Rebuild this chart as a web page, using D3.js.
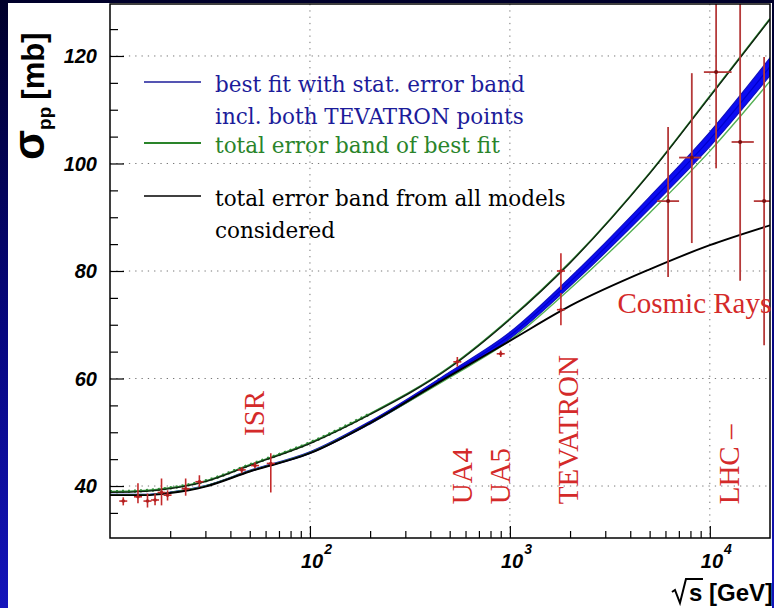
<!DOCTYPE html>
<html>
<head>
<meta charset="utf-8">
<script src="https://cdnjs.cloudflare.com/ajax/libs/d3/7.8.5/d3.min.js"></script>
<style>
  html, body { margin: 0; padding: 0; background: #000030; }
  svg { display: block; }
</style>
</head>
<body>
<svg id="chart" width="774" height="608"></svg>
<script>
// Energies (sqrt(s), GeV) at which the fitted curves are tabulated
const energies    = [10, 15, 20, 30, 50, 100, 200, 500, 1000, 2000, 5000, 10000, 20000];
// Best fit and its statistical half-width (mb)
const bestFit     = [38.4, 38.4, 38.8, 40.0, 42.8, 46.2, 51.8, 60.8, 68.0, 78.0, 92.7, 104.5, 118.0];
const statErr     = [0.05, 0.05, 0.05, 0.08, 0.1, 0.15, 0.25, 0.4, 0.6, 0.8, 1.1, 1.35, 1.65];
// Total error band of the best fit (mb)
const fitBandLow  = [38.4, 38.4, 38.8, 40.0, 42.8, 46.2, 51.7, 60.2, 67.1, 76.7, 90.8, 102.3, 115.3];
const fitBandHigh = [38.95, 39.15, 39.65, 40.95, 43.95, 48.05, 53.45, 62.15, 71.15, 81.65, 98.25, 112.55, 126.95];
// Total error band from all models considered (mb)
const modelsLow   = [38.3, 38.3, 38.7, 39.9, 42.7, 46.1, 51.7, 60.5, 67.0, 73.5, 80.3, 84.8, 88.5];
const modelsHigh  = [38.8, 39.0, 39.5, 40.8, 43.8, 47.9, 53.3, 62.0, 71.0, 81.5, 98.1, 112.4, 126.8];

// Accelerator measurements: energy, value, lower and upper error limits (mb)
const accE   = [11.65, 13.8, 15.4, 16.8, 18.1, 19.4, 23.9, 28.0, 45.6, 53.1, 63.7, 546, 900, 1800, 1800];
const accVal = [37.2, 38.0, 37.2, 37.4, 38.8, 38.3, 39.5, 40.8, 43.0, 43.8, 44.2, 63.1, 64.6, 72.8, 80.0];
const accLo  = [36.4, 36.8, 36.0, 36.4, 36.4, 37.3, 38.2, 39.8, 42.4, 43.3, 38.8, 62.2, 64.0, 69.9, 76.5];
const accHi  = [37.9, 40.5, 38.6, 38.6, 41.4, 39.2, 41.4, 42.0, 43.5, 44.4, 46.1, 64.0, 65.2, 75.9, 83.3];

// Cosmic-ray points: energy with its range, value with its range
const crE    = [6185, 8128, 10753, 14180, 18690];
const crELo  = [5450, 7020, 9340, 12850, 16600];
const crEHi  = [7020, 9060, 12850, 16600, 20000];
const crVal  = [93.0, 101.1, 117.0, 104.0, 93.0];
const crLo   = [78.9, 85.2, 99.1, 78.2, 66.2];
const crHi   = [106.8, 116.8, 135.0, 130.0, 119.8];

// Axis ticks
const yMajor = [40, 60, 80, 100, 120];
const yMinor = [35, 45, 50, 55, 65, 70, 75, 85, 90, 95, 105, 110, 115, 125];
const xMajor = [100, 1000, 10000];
const xMajorExp = ["2", "3", "4"];
const xMinor = [20, 30, 40, 50, 60, 70, 80, 90, 200, 300, 400, 500, 600, 700, 800, 900,
                2000, 3000, 4000, 5000, 6000, 7000, 8000, 9000];

// Experiment labels: energy and cross-section where each vertical label starts
const expNames = ["ISR", "UA4", "UA5", "TEVATRON", "LHC –"];
const expE     = [59, 650, 1000, 2200, 14000];
const expY     = [49.3, 36.6, 36.6, 36.6, 36.6];

// Legend
const legendText = [
  ["best fit with stat. error band", "incl. both TEVATRON points"],
  ["total error band of best fit"],
  ["total error band from all models", "considered"]
];
const legendColor = ["#1c1c9a", "#2a842a", "#000000"];

(function draw() {
  const svg = d3.select("#chart");
  const W = 774, H = 608;

  // Background: navy gradient with a white panel
  const defs = svg.append("defs");
  const grad = defs.append("linearGradient").attr("id", "bg").attr("x1", 0).attr("y1", 0).attr("x2", 0).attr("y2", 1);
  grad.append("stop").attr("offset", "0%").attr("stop-color", "#00002a");
  grad.append("stop").attr("offset", "55%").attr("stop-color", "#070780");
  grad.append("stop").attr("offset", "100%").attr("stop-color", "#1515bb");
  svg.append("rect").attr("width", W).attr("height", H).attr("fill", "url(#bg)");
  svg.append("rect").attr("x", 8).attr("y", 3).attr("width", 764).attr("height", 605).attr("fill", "#ffffff");

  const pL = 110, pR = 770, pT = 4, pB = 538;
  const x = d3.scaleLog().domain([10, 20000]).range([pL, pR]);
  const y = d3.scaleLinear().domain([30.33, 129.67]).range([pB, pT]);

  defs.append("clipPath").attr("id", "plotclip")
    .append("rect").attr("x", pL).attr("y", pT).attr("width", pR - pL).attr("height", pB - pT);

  // Dotted grid
  const grid = svg.append("g").attr("stroke", "#777").attr("stroke-width", 1).attr("stroke-dasharray", "1.3,5");
  grid.selectAll("line.h").data(yMajor).join("line").attr("class", "h")
    .attr("x1", pL).attr("x2", pR).attr("y1", d => y(d)).attr("y2", d => y(d));
  grid.selectAll("line.v").data(xMajor).join("line").attr("class", "v")
    .attr("y1", pT).attr("y2", pB).attr("x1", d => x(d)).attr("x2", d => x(d));

  const plot = svg.append("g").attr("clip-path", "url(#plotclip)");

  const rows = energies.map((e, i) => ({
    e, fit: bestFit[i], se: statErr[i],
    fLo: fitBandLow[i], fHi: fitBandHigh[i], mLo: modelsLow[i], mHi: modelsHigh[i]
  }));

  const lineOf = acc => d3.line().x(d => x(d.e)).y(d => y(acc(d))).curve(d3.curveMonotoneX);

  // Statistical band of the best fit
  plot.append("path").datum(rows)
    .attr("d", d3.area().x(d => x(d.e)).y0(d => y(d.fit - d.se)).y1(d => y(d.fit + d.se)).curve(d3.curveMonotoneX))
    .attr("fill", "#0c0cf2").attr("stroke", "#1010c0").attr("stroke-width", 1.2);
  plot.append("path").datum(rows).attr("d", lineOf(d => d.fit))
    .attr("fill", "none").attr("stroke", "#0000cc").attr("stroke-width", 1.2);

  // Total error band of the best fit (green)
  plot.append("path").datum(rows).attr("d", lineOf(d => d.fLo))
    .attr("fill", "none").attr("stroke", "#55b055").attr("stroke-width", 1.4);
  plot.append("path").datum(rows).attr("d", lineOf(d => d.fHi))
    .attr("fill", "none").attr("stroke", "#2d8a35").attr("stroke-width", 1.6);
  // small green markers along the upper green curve at low energy
  plot.append("path").datum(rows.filter(d => d.e <= 200)).attr("d", lineOf(d => d.fHi))
    .attr("fill", "none").attr("stroke", "#2d8a35").attr("stroke-width", 3.2).attr("stroke-dasharray", "2,4");

  // Band from all models (black)
  plot.append("path").datum(rows).attr("d", lineOf(d => d.mLo))
    .attr("fill", "none").attr("stroke", "#000").attr("stroke-width", 1.9);
  plot.append("path").datum(rows).attr("d", lineOf(d => d.mHi))
    .attr("fill", "none").attr("stroke", "#102010").attr("stroke-width", 1.3);

  // Accelerator data
  const acc = accE.map((e, i) => ({ e, v: accVal[i], lo: accLo[i], hi: accHi[i] }));
  const accG = plot.append("g").attr("stroke", "#c42a2a").attr("stroke-width", 1.6);
  accG.selectAll("line.err").data(acc).join("line").attr("class", "err")
    .attr("x1", d => x(d.e)).attr("x2", d => x(d.e)).attr("y1", d => y(d.lo)).attr("y2", d => y(d.hi));
  accG.selectAll("line.tick").data(acc).join("line").attr("class", "tick")
    .attr("x1", d => x(d.e) - 4).attr("x2", d => x(d.e) + 4).attr("y1", d => y(d.v)).attr("y2", d => y(d.v));
  plot.append("g").selectAll("circle").data(acc).join("circle")
    .attr("cx", d => x(d.e)).attr("cy", d => y(d.v)).attr("r", 1.8).attr("fill", "#b02020");

  // Cosmic-ray data
  const cr = crE.map((e, i) => ({ e, eLo: crELo[i], eHi: crEHi[i], v: crVal[i], lo: crLo[i], hi: crHi[i] }));
  const crG = plot.append("g").attr("stroke", "#b53a3a").attr("stroke-width", 1.8);
  crG.selectAll("line.v").data(cr).join("line").attr("class", "v")
    .attr("x1", d => x(d.e)).attr("x2", d => x(d.e)).attr("y1", d => y(d.lo)).attr("y2", d => y(d.hi));
  crG.selectAll("line.h").data(cr).join("line").attr("class", "h")
    .attr("x1", d => x(d.eLo)).attr("x2", d => x(d.eHi)).attr("y1", d => y(d.v)).attr("y2", d => y(d.v));
  plot.append("g").selectAll("circle").data(cr).join("circle")
    .attr("cx", d => x(d.e)).attr("cy", d => y(d.v)).attr("r", 2).attr("fill", "#7a1010");

  // Frame
  svg.append("rect").attr("x", pL).attr("y", pT).attr("width", pR - pL).attr("height", pB - pT)
    .attr("fill", "none").attr("stroke", "#000").attr("stroke-width", 1.5);

  // Ticks pointing into the plot
  const tickStyle = g => {
    g.select(".domain").remove();
    g.selectAll("line").attr("stroke", "#000").attr("stroke-width", 1.2);
    g.selectAll("text").remove();
  };
  svg.append("g").attr("transform", `translate(${pL},0)`)
    .call(d3.axisRight(y).tickValues(yMajor).tickSize(14)).call(tickStyle);
  svg.append("g").attr("transform", `translate(${pL},0)`)
    .call(d3.axisRight(y).tickValues(yMinor).tickSize(8)).call(tickStyle);
  svg.append("g").attr("transform", `translate(0,${pB})`)
    .call(d3.axisTop(x).tickValues(xMajor).tickSize(12)).call(tickStyle);
  svg.append("g").attr("transform", `translate(0,${pB})`)
    .call(d3.axisTop(x).tickValues(xMinor).tickSize(7)).call(tickStyle);

  // Tick labels
  const labelFont = "'Liberation Sans', Arial, sans-serif";
  svg.append("g").selectAll("text").data(yMajor).join("text")
    .attr("x", 97).attr("y", d => y(d)).attr("dy", "0.36em")
    .attr("text-anchor", "end").attr("font-family", labelFont).attr("font-weight", "bold")
    .attr("font-style", "italic").attr("font-size", 20).attr("fill", "#000")
    .text(d => d);

  const xl = svg.append("g").selectAll("text").data(xMajor).join("text")
    .attr("x", d => x(d) - 9).attr("y", 568)
    .attr("font-family", labelFont).attr("font-weight", "bold")
    .attr("font-style", "italic").attr("font-size", 20).attr("fill", "#000");
  xl.append("tspan").text("10");
  xl.append("tspan").attr("dy", -14).attr("dx", 1).attr("font-size", 14).text((d, i) => xMajorExp[i]);

  // Axis titles
  const base = 601;
  const xt = svg.append("text").attr("x", 773).attr("y", base).attr("text-anchor", "end")
    .attr("font-family", labelFont).attr("font-weight", "bold").attr("font-size", 24).attr("fill", "#000")
    .text("s [GeV]");
  const sx = xt.node().getBBox().x;
  svg.append("path")
    .attr("d", `M${sx - 17},${base - 9} L${sx - 14},${base - 11} L${sx - 9},${base + 2} L${sx - 3},${base - 22} L${sx + 14},${base - 22}`)
    .attr("fill", "none").attr("stroke", "#000").attr("stroke-width", 2);

  const yt = svg.append("text").attr("transform", "translate(44,160) rotate(-90)")
    .attr("font-family", labelFont).attr("font-weight", "bold").attr("fill", "#000");
  yt.append("tspan").attr("font-size", 44).text("σ");
  yt.append("tspan").attr("font-size", 19).attr("dy", 7).text("pp");
  yt.append("tspan").attr("font-size", 31).attr("dy", -7).attr("dx", 7).text("[mb]");

  // Experiment labels
  const redFont = "'Liberation Serif', 'Times New Roman', serif";
  svg.append("g").selectAll("text").data(expNames).join("text")
    .attr("transform", (d, i) => `translate(${x(expE[i])},${y(expY[i])}) rotate(-90)`)
    .attr("font-family", redFont).attr("font-size", 29).attr("fill", "#d42a2a")
    .text(d => d);
  svg.append("text").attr("x", x(3450)).attr("y", y(72.1))
    .attr("font-family", redFont).attr("font-size", 29).attr("fill", "#d42a2a")
    .text("Cosmic Rays");

  // Legend
  const legFont = "'DejaVu Serif', 'Liberation Serif', serif";
  const legRows = [92, 153, 206];
  const lg = svg.append("g");
  legendText.forEach((lines, i) => {
    lg.append("line").attr("x1", 144).attr("x2", 201)
      .attr("y1", legRows[i] - 10).attr("y2", legRows[i] - 10)
      .attr("stroke", legendColor[i]).attr("stroke-width", i === 1 ? 2 : 1.5);
    lines.forEach((t, j) => {
      lg.append("text").attr("x", 215).attr("y", legRows[i] + j * 32)
        .attr("font-family", legFont).attr("font-size", 21.5).attr("fill", legendColor[i])
        .text(t);
    });
  });
})();
</script>
</body>
</html>
